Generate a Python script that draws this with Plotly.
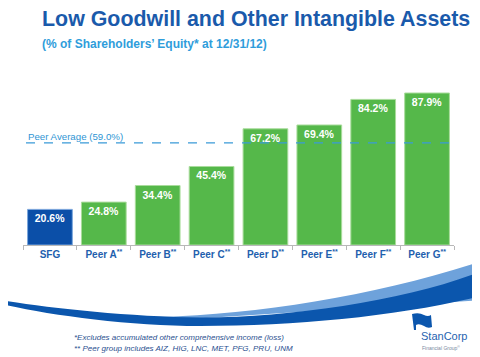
import plotly.graph_objects as go

categories = ["SFG", "Peer A<sup>**</sup>", "Peer B<sup>**</sup>", "Peer C<sup>**</sup>",
              "Peer D<sup>**</sup>", "Peer E<sup>**</sup>", "Peer F<sup>**</sup>", "Peer G<sup>**</sup>"]
values = [20.6, 24.8, 34.4, 45.4, 67.2, 69.4, 84.2, 87.9]
peer_average = 59.0

OFF = 8  # page body margin
W, H = 480 - OFF, 357 - OFF
ML, MR, MT, MB = 23 - OFF, 26, 70 - OFF, 112
PW = W - ML - MR
PH = H - MT - MB


def px(x):
    return (x - OFF - ML) / PW


def py(y):
    return (H - MB - (y - OFF)) / PH


def path(cmds):
    out = []
    for c in cmds:
        if isinstance(c, str):
            out.append(c)
        else:
            out.append(f"{px(c[0]):.4f},{py(c[1]):.4f}")
    return " ".join(out)


BLUE = "#0b4fa8"
GREEN = "#55b84a"
LABEL = "#1f5fae"
FONT = "Liberation Sans, Arial"

colors = [BLUE] + [GREEN] * (len(values) - 1)
edges = ["#7aa6dc"] + ["#a9dc9c"] * (len(values) - 1)

fig = go.Figure(go.Bar(
    x=categories, y=values,
    marker=dict(color=colors, line=dict(color=edges, width=1)),
    texttemplate="<b>%{y:.1f}%</b>",
    textposition="inside", insidetextanchor="end",
    textfont=dict(color="white", size=10.5, family=FONT),
    width=0.83, hoverinfo="skip",
))

shapes = []
shapes.append(dict(type="line", xref="paper", yref="y", x0=px(26), x1=1.0,
                   y0=peer_average, y1=peer_average,
                   line=dict(color="#3a9ad8", width=1.2, dash="dash"), layer="above"))
light = path(["M", (160, 317), "C", (260, 314), (380, 295), (482, 261),
              "L", (482, 300), "L", (160, 321), "Z"])
shapes.append(dict(type="path", xref="paper", yref="paper", path=light,
                   fillcolor="#6ea2db", line=dict(width=0), layer="below"))
dark = path(["M", (6, 301), "C", (50, 308), (130, 317), (200, 317.5),
             "C", (290, 318), (410, 300), (482, 271),
             "L", (482, 296), "C", (400, 316), (300, 326), (200, 326),
             "C", (130, 326), (50, 315), (6, 305), "Z"])
shapes.append(dict(type="path", xref="paper", yref="paper", path=dark,
                   fillcolor="#0b56ad", line=dict(width=0), layer="below"))
flag = path(["M", (412, 314), "Q", (419, 312), (424, 315), "Q", (428, 317), (431, 315),
             "L", (432, 327), "Q", (428, 329), (424, 326), "Q", (419, 323), (416, 325),
             "L", (416, 330), "L", (414, 330), "Z"])
shapes.append(dict(type="path", xref="paper", yref="paper", path=flag,
                   fillcolor="#0b56ad", line=dict(width=0)))


def note(text, x, y, size, color, anchor="left"):
    return dict(text=text, x=px(x), y=py(y), xref="paper", yref="paper",
                xanchor=anchor, yanchor="middle", showarrow=False,
                font=dict(size=size, color=color, family=FONT))


annotations = [
    note("<b>Low Goodwill and Other Intangible Assets</b>", 40, 19, 21.4, "#1a5aab"),
    note("<b>(% of Shareholders’ Equity* at 12/31/12)</b>", 40, 44, 12, "#2f9ddb"),
    note(f"Peer Average ({peer_average:.1f}%)", 26, 136, 9.7, "#2f95d4"),
    note("<i>*Excludes accumulated other comprehensive income (loss)</i>", 72, 337, 8, "#2a4f8f"),
    note("<i>** Peer group includes AIZ, HIG, LNC, MET, PFG, PRU, UNM</i>", 72, 348, 8, "#2a4f8f"),
    note("StanCorp", 419, 336, 11, "#1f63b0"),
    note("Financial Group<sup>®</sup>", 420, 348, 5, "#7a8aa0"),
]

fig.update_layout(
    width=W, height=H,
    margin=dict(l=ML, r=MR, t=MT, b=MB, pad=0),
    paper_bgcolor="white", plot_bgcolor="white",
    showlegend=False, bargap=0.17,
    shapes=shapes, annotations=annotations,
    xaxis=dict(showline=True, linecolor="#b8b8b8", linewidth=1,
               ticks="outside", tickson="boundaries", ticklen=4, tickcolor="#b8b8b8",
               tickfont=dict(size=10, color=LABEL, family=FONT, weight="bold"),
               showgrid=False, fixedrange=True),
    yaxis=dict(range=[0, 101.2], visible=False, showgrid=False, fixedrange=True),
)

fig.write_html("out.html")
